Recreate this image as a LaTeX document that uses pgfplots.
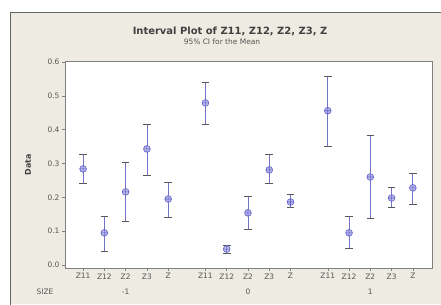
\documentclass[border=0pt]{standalone}
\usepackage{pgfplots}
\pgfplotsset{compat=1.18}
\usepackage{fontspec}
\setmainfont{DejaVu Sans}
\definecolor{bgcol}{RGB}{238,235,226}
\definecolor{mcol}{RGB}{100,100,205}
\definecolor{lcol}{RGB}{115,115,200}
\definecolor{txt}{RGB}{85,85,85}
\begin{document}
\begin{tikzpicture}[x=1bp,y=1bp]
\path[use as bounding box] (0,0) rectangle (441,304);
\fill[white] (0,0) rectangle (441,304);
\fill[bgcol] (10,0) rectangle (441,292);
\draw[black!60, line width=0.9bp] (10,-1) -- (10,292) -- (442,292);
\node[font=\bfseries\fontsize{10}{12}\selectfont, text=black!75] at (230,273) {Interval Plot of Z11, Z12, Z2, Z3, Z};
\node[font=\fontsize{7.5}{9}\selectfont, text=txt] at (222,262.5) {95\% CI for the Mean};
\begin{axis}[
  at={(65bp,36bp)}, anchor=south west,
  scale only axis, width=367bp, height=207bp,
  xmin=0.15, xmax=17.4, ymin=-0.009, ymax=0.603,
  axis background/.style={fill=white},
  axis line style={black!50},
  tick align=outside, tick style={black!50, line width=0.5bp}, major tick length=3bp,
  xtick={1,2,3,4,5,6.75,7.75,8.75,9.75,10.75,12.5,13.5,14.5,15.5,16.5},
  xticklabels={Z11,Z12,Z2,Z3,Z,Z11,Z12,Z2,Z3,Z,Z11,Z12,Z2,Z3,Z},
  ytick={0,0.1,0.2,0.3,0.4,0.5,0.6},
  /pgf/number format/assume math mode=true,
  tick label style={font=\fontsize{7.5}{8}\selectfont, text=txt},
  xticklabel style={yshift=1bp},
  yticklabel style={xshift=1bp, /pgf/number format/.cd, fixed, fixed zerofill, precision=1},
  xtick pos=bottom, ytick pos=left,
  clip=false,
]
\addplot+[only marks, mark=oplus*, mark size=3.4bp,
  mark options={draw=mcol, fill=mcol!45, line width=0.6bp},
  error bars/.cd, y dir=both, y explicit,
  error bar style={color=lcol, line width=0.8bp},
  error mark options={rotate=90, mark size=3.8bp, color=black!65, line width=0.7bp}]
table[x=x, y=y, y error plus=ep, y error minus=em] {
x     y      ep     em
1     0.284  0.044  0.044
2     0.095  0.050  0.054
3     0.216  0.086  0.086
4     0.343  0.074  0.077
5     0.195  0.048  0.053
6.75  0.479  0.061  0.062
7.75  0.047  0.012  0.014
8.75  0.154  0.050  0.050
9.75  0.281  0.047  0.041
10.75 0.186  0.024  0.017
12.5  0.456  0.103  0.104
13.5  0.095  0.050  0.045
14.5  0.260  0.122  0.121
15.5  0.198  0.030  0.029
16.5  0.228  0.044  0.048
};
\end{axis}
\node[font=\bfseries\fontsize{8}{9}\selectfont, text=black!75, rotate=90] at (28,139) {Data};
\node[font=\fontsize{7.5}{8}\selectfont, text=txt] at (45,12) {SIZE};
\node[font=\fontsize{7.5}{8}\selectfont, text=txt] at (125.6,12) {-1};
\node[font=\fontsize{7.5}{8}\selectfont, text=txt] at (248,12) {0};
\node[font=\fontsize{7.5}{8}\selectfont, text=txt] at (370.3,12) {1};
\end{tikzpicture}
\end{document}
